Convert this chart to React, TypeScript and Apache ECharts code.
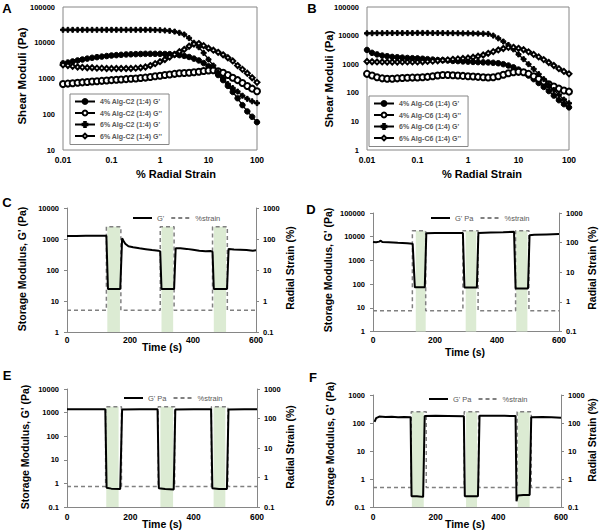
import React, { useEffect, useRef } from "react";
import * as echarts from "echarts";

const FONT = "'Liberation Sans', Arial, sans-serif";

// ---------- Panels A / B : amplitude sweeps ----------
const strainPct = [
  0.01, 0.0126, 0.0158, 0.02, 0.0251, 0.0316, 0.0398, 0.0501, 0.0631, 0.0794,
  0.1, 0.126, 0.158, 0.2, 0.251, 0.316, 0.398, 0.501, 0.631, 0.794,
  1, 1.26, 1.58, 2, 2.51, 3.16, 3.98, 5.01, 6.31, 7.94,
  10, 12.6, 15.8, 20, 25.1, 31.6, 39.8, 50.1, 63.1, 79.4, 100,
];

const a4Gp = [2650, 2800, 3000, 3200, 3400, 3600, 3800, 3950, 4100, 4250, 4400, 4500, 4600, 4700, 4750, 4800, 4850, 4900, 4900, 4900, 4900, 4850, 4800, 4700, 4500, 4300, 4000, 3600, 3200, 2700, 2200, 1700, 1250, 900, 620, 420, 280, 180, 120, 85, 60];
const a4Gpp = [700, 720, 740, 760, 780, 800, 820, 840, 860, 880, 900, 920, 940, 960, 980, 1000, 1030, 1060, 1100, 1150, 1200, 1250, 1300, 1350, 1400, 1420, 1450, 1500, 1550, 1620, 1680, 1700, 1600, 1450, 1250, 1050, 900, 750, 620, 520, 440];
const a6Gp = [23000, 23000, 23000, 23000, 23000, 23000, 23000, 23000, 23000, 23000, 23000, 23000, 23000, 23000, 23000, 23000, 23000, 23000, 23000, 22800, 22500, 22000, 21500, 20500, 19000, 17000, 13500, 10000, 7500, 5200, 3400, 2300, 1500, 1000, 700, 540, 430, 330, 270, 230, 205];
const a6Gpp = [2400, 2300, 2200, 2100, 2050, 2000, 2000, 1950, 1950, 1900, 1900, 1900, 1900, 1900, 1900, 1950, 2000, 2100, 2300, 2600, 2950, 3400, 4000, 4700, 5600, 6500, 8000, 9200, 9500, 8300, 7000, 6200, 5400, 4600, 3800, 3100, 2300, 1800, 1400, 1050, 780];

const b4Gp = [3150, 2500, 2200, 2000, 1900, 1800, 1750, 1700, 1650, 1620, 1600, 1550, 1500, 1450, 1400, 1380, 1350, 1300, 1280, 1250, 1230, 1200, 1180, 1160, 1150, 1120, 1080, 1000, 900, 780, 650, 520, 400, 300, 220, 160, 115, 80, 55, 40, 31];
const b4Gpp = [460, 400, 350, 320, 310, 310, 320, 330, 335, 340, 345, 350, 360, 380, 400, 420, 420, 410, 400, 390, 380, 370, 360, 350, 345, 350, 380, 430, 480, 520, 540, 520, 460, 380, 310, 250, 200, 165, 140, 120, 110];
const b6Gp = [12000, 12100, 12200, 12200, 12300, 12300, 12300, 12300, 12300, 12300, 12400, 12400, 12400, 12300, 12300, 12300, 12200, 12200, 12100, 12000, 12000, 11900, 11800, 11700, 11500, 10000, 8000, 6200, 4700, 3300, 2200, 1500, 1000, 680, 450, 300, 190, 125, 85, 58, 43];
const b6Gpp = [1240, 1220, 1200, 1200, 1190, 1190, 1190, 1200, 1200, 1200, 1200, 1220, 1250, 1280, 1320, 1380, 1420, 1480, 1530, 1580, 1650, 1750, 1900, 2100, 2400, 2750, 3150, 3550, 3850, 3900, 3600, 3200, 2700, 2200, 1800, 1450, 1150, 900, 700, 560, 460];

const aNames = ["4% Alg-C2 (1:4) G'", "4% Alg-C2 (1:4) G''", "6% Alg-C2 (1:4) G'", "6% Alg-C2 (1:4) G''"];
const bNames = ["4% Alg-C6 (1:4) G'", "4% Alg-C6 (1:4) G''", "6% Alg-C6 (1:4) G'", "6% Alg-C6 (1:4) G''"];

// ---------- Panels C-F : recovery time sweeps ----------
const strainLow = 0.5;
const strainHigh = 250;

const cTime = [0, 30, 60, 90, 110, 125, 130, 150, 169, 175, 180, 185, 195, 210, 230, 250, 270, 290, 296, 300, 320, 340, 345, 360, 380, 400, 420, 440, 455, 462, 466, 485, 508, 513, 530, 550, 570, 590, 600];
const cGp = [1250, 1260, 1270, 1280, 1280, 1270, 24.5, 24.5, 24.5, 1050, 850, 700, 580, 540, 500, 470, 440, 420, 400, 24.5, 24.5, 24.5, 500, 500, 480, 450, 420, 400, 410, 390, 24.5, 24.5, 24.5, 480, 460, 450, 440, 420, 430];
const cWindows = [[125, 171], [296, 340], [462, 509]];
const cBands = [[128, 168], [300, 337], [466, 505]];

const dTime = [0, 10, 20, 25, 30, 50, 80, 110, 128, 135, 150, 167, 172, 200, 250, 290, 295, 315, 335, 340, 380, 420, 455, 460, 480, 500, 505, 520, 560, 600];
const dGp = [6000, 5800, 6200, 6800, 6000, 5800, 5500, 5300, 5000, 73, 73, 73, 14000, 14200, 14300, 14300, 72, 72, 72, 14500, 15000, 15500, 16000, 66, 66, 66, 11500, 12000, 12500, 13000];
const dWindows = [[127, 170], [290, 339], [460, 503]];
const dBands = [[138, 170], [299, 333], [462, 498]];

const eTime = [0, 60, 121, 125, 140, 168, 174, 230, 286, 290, 310, 337, 342, 400, 455, 459, 480, 505, 510, 560, 600];
const eGp = [1400, 1390, 1380, 0.65, 0.6, 0.58, 1350, 1380, 1380, 0.62, 0.58, 0.55, 1350, 1380, 1380, 0.62, 0.58, 0.58, 1350, 1380, 1380];
const eWindows = [[122, 172], [288, 340], [456, 508]];
const eBands = [[124, 163], [295, 335], [463, 500]];

const fTime = [5, 10, 20, 40, 60, 80, 100, 120, 123, 140, 160, 165, 200, 240, 290, 293, 310, 335, 340, 380, 420, 455, 458, 462, 480, 500, 505, 540, 570, 600];
const fGp = [110, 150, 170, 165, 168, 162, 165, 160, 0.24, 0.24, 0.23, 178, 180, 178, 175, 0.24, 0.24, 0.24, 180, 182, 180, 178, 0.16, 0.26, 0.27, 0.27, 160, 165, 160, 155];
const fWindows = [[122, 170], [291, 337], [460, 505]];
const fBands = [[124, 162], [297, 332], [462, 500]];

const timeTicks = { min: 0, max: 600, interval: 200 };

const fmt = (v: number) => (v >= 1 ? String(Math.round(v)) : String(parseFloat(Number(v).toPrecision(1))));

function stepStrain(wins: number[][]) {
  const pts: number[][] = [[0, strainLow]];
  wins.forEach(([a, b]) => {
    pts.push([a, strainLow], [a, strainHigh], [b, strainHigh], [b, strainLow]);
  });
  pts.push([600, strainLow]);
  return pts;
}

const zip = (xs: number[], ys: number[]) => xs.map((x, i) => [x, ys[i]]);

const AXIS_COLOR = "#868686";
const PLUS = "path://M2,0H4V2H6V4H4V6H2V4H0V2H2Z";

function logY(gridIndex: number, min: number, max: number, pos: "left" | "right", box: boolean) {
  return {
    type: "log",
    logBase: 10,
    gridIndex,
    min,
    max,
    position: pos,
    axisLine: { show: !box, lineStyle: { color: AXIS_COLOR, width: 1 } },
    axisTick: { show: !box, length: 3, lineStyle: { color: AXIS_COLOR } },
    splitLine: { show: false },
    minorTick: { show: false },
    axisLabel: {
      formatter: fmt,
      fontSize: 7.5,
      fontWeight: "bold",
      fontFamily: FONT,
      color: "#000",
      margin: pos === "left" ? 8 : 7,
    },
  };
}

function timeX(gridIndex: number, margin: number) {
  return {
    type: "value",
    gridIndex,
    ...timeTicks,
    axisLine: { show: true, lineStyle: { color: AXIS_COLOR, width: 1 } },
    axisTick: { show: false },
    splitLine: { show: false },
    axisLabel: { fontSize: 8.5, fontWeight: "bold", fontFamily: FONT, color: "#000", margin },
  };
}

function strainLogX(gridIndex: number) {
  return {
    type: "log",
    logBase: 10,
    gridIndex,
    min: 0.01,
    max: 100,
    axisLine: { show: false },
    axisTick: { show: false },
    splitLine: { show: false },
    axisLabel: { formatter: fmt, fontSize: 8.5, fontWeight: "bold", fontFamily: FONT, color: "#000", margin: 5 },
  };
}

function sweepSeries(names: string[], arrs: number[][], axisIdx: number) {
  const syms = ["circle", "emptyCircle", PLUS, "emptyDiamond"];
  const sizes = [5.5, 6, 5, 5];
  return names.map((n, k) => ({
    type: "line",
    name: n,
    xAxisIndex: axisIdx,
    yAxisIndex: axisIdx,
    data: zip(strainPct, arrs[k]),
    symbol: syms[k],
    symbolSize: sizes[k],
    showAllSymbol: true,
    lineStyle: { color: "#000", width: 1.3 },
    itemStyle: { color: "#000", borderColor: "#000", borderWidth: 1 },
    z: 3 + k,
  }));
}

function recoverySeries(
  gName: string,
  times: number[],
  vals: number[],
  wins: number[][],
  bands: number[][],
  xIdx: number,
  yLeft: number,
  yRight: number
) {
  return [
    {
      type: "line",
      name: "%strain",
      xAxisIndex: xIdx,
      yAxisIndex: yRight,
      data: stepStrain(wins),
      symbol: "none",
      lineStyle: { color: "#808080", width: 1.5, type: [4, 3] },
      itemStyle: { color: "#808080" },
      z: 3,
      markArea: {
        silent: true,
        z: 1,
        itemStyle: { color: "#dcebd3" },
        data: bands.map(([a, b]) => [{ coord: [a, 0.1] }, { coord: [b, strainHigh] }]),
      },
    },
    {
      type: "line",
      name: gName,
      xAxisIndex: xIdx,
      yAxisIndex: yLeft,
      data: zip(times, vals),
      symbol: "none",
      lineStyle: { color: "#000", width: 2 },
      itemStyle: { color: "#000" },
      z: 4,
    },
  ];
}

function sweepLegend(names: string[], left: number, top: number) {
  return {
    data: names,
    orient: "vertical",
    left,
    top,
    backgroundColor: "#fff",
    borderColor: AXIS_COLOR,
    borderWidth: 1,
    borderRadius: 0,
    padding: [4, 7, 5, 4],
    itemWidth: 20,
    itemHeight: 6,
    itemGap: 4.5,
    selectedMode: false,
    textStyle: { fontSize: 7, fontWeight: "bold", color: "#595959", fontFamily: FONT },
  };
}

function recLegend(gName: string, left: number, top: number) {
  return {
    data: [gName, "%strain"],
    orient: "horizontal",
    left,
    top,
    itemWidth: 19,
    itemHeight: 6,
    itemGap: 6,
    selectedMode: false,
    itemStyle: { opacity: 0 },
    textStyle: { fontSize: 7.5, color: "#595959", fontFamily: FONT },
  };
}

function txt(text: string, x: number, y: number, size: number, rot = 0) {
  return {
    type: "text",
    x,
    y,
    rotation: rot,
    style: {
      text,
      fill: "#000",
      font: `bold ${size}px ${FONT}`,
      textAlign: "center",
      textVerticalAlign: "middle",
    },
  };
}

const R = Math.PI / 2;

const option: any = {
  animation: false,
  backgroundColor: "#fff",
  grid: [
    { left: 63, top: 7, width: 194, height: 143, show: true, borderColor: AXIS_COLOR, borderWidth: 1, backgroundColor: "transparent" },
    { left: 367, top: 7, width: 202, height: 143, show: true, borderColor: AXIS_COLOR, borderWidth: 1, backgroundColor: "transparent" },
    { left: 67, top: 208, width: 189, height: 124 },
    { left: 373, top: 213, width: 186, height: 118.5 },
    { left: 67, top: 389, width: 190, height: 118 },
    { left: 373, top: 395, width: 188, height: 112 },
  ],
  xAxis: [strainLogX(0), strainLogX(1), timeX(2, 3), timeX(3, 4), timeX(4, 5), timeX(5, 5)],
  yAxis: [
    logY(0, 10, 100000, "left", true),
    logY(1, 1, 100000, "left", true),
    logY(2, 1, 10000, "left", false),
    logY(2, 0.1, 1000, "right", false),
    logY(3, 1, 100000, "left", false),
    logY(3, 0.1, 1000, "right", false),
    logY(4, 0.1, 10000, "left", false),
    logY(4, 0.1, 1000, "right", false),
    logY(5, 0.1, 1000, "left", false),
    logY(5, 0.1, 1000, "right", false),
  ],
  legend: [
    sweepLegend(aNames, 70, 94),
    sweepLegend(bNames, 369, 96),
    recLegend("G'", 127, 209),
    recLegend("G' Pa", 425, 209),
    recLegend("G' Pa", 118, 389),
    recLegend("G' Pa", 423, 390),
  ],
  series: [
    ...sweepSeries(aNames, [a4Gp, a4Gpp, a6Gp, a6Gpp], 0),
    ...sweepSeries(bNames, [b4Gp, b4Gpp, b6Gp, b6Gpp], 1),
    ...recoverySeries("G'", cTime, cGp, cWindows, cBands, 2, 2, 3),
    ...recoverySeries("G' Pa", dTime, dGp, dWindows, dBands, 3, 4, 5),
    ...recoverySeries("G' Pa", eTime, eGp, eWindows, eBands, 4, 6, 7),
    ...recoverySeries("G' Pa", fTime, fGp, fWindows, fBands, 5, 8, 9),
  ],
  graphic: [
    txt("A", 7, 8, 13),
    txt("B", 312, 8, 13),
    txt("C", 7, 202, 13),
    txt("D", 311, 209, 13),
    txt("E", 7, 375, 13),
    txt("F", 313, 377, 13),
    txt("Shear Moduli (Pa)", 22, 76, 11.5, R),
    txt("% Radial Strain", 176, 174, 11),
    txt("Shear Moduli (Pa)", 329, 79, 11.5, R),
    txt("% Radial Strain", 482, 174, 11),
    txt("Storage Modulus, G' (Pa)", 22, 269, 10.5, R),
    txt("Radial Strain (%)", 290, 268, 10.5, R),
    txt("Time (s)", 162, 347, 10.5),
    txt("Storage Modulus, G' (Pa)", 328, 270, 10.5, R),
    txt("Radial Strain (%)", 592, 268, 10.5, R),
    txt("Time (s)", 465, 352, 10.5),
    txt("Storage Modulus, G' (Pa)", 25, 447, 10.5, R),
    txt("Radial Strain (%)", 290, 447, 10.5, R),
    txt("Time (s)", 162, 524, 10.5),
    txt("Storage Modulus, G' (Pa)", 330, 444, 10.5, R),
    txt("Radial Strain (%)", 592, 440, 10.5, R),
    txt("Time (s)", 465, 524, 10.5),
  ],
};

export default function App() {
  const ref = useRef<HTMLDivElement>(null);
  useEffect(() => {
    document.body.style.margin = "0";
    const chart = echarts.init(ref.current!, null, { renderer: "svg" });
    chart.setOption(option);
    return () => chart.dispose();
  }, []);
  return <div ref={ref} style={{ width: 600, height: 532, background: "#fff" }} />;
}
